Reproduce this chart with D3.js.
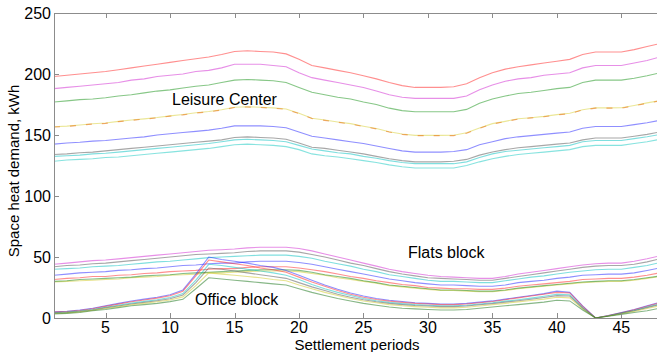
<!DOCTYPE html>
<html>
<head>
<meta charset="utf-8">
<script src="https://cdn.jsdelivr.net/npm/d3@7/dist/d3.min.js"></script>
<style>
  body { margin: 0; background: #fff; }
  svg text { font-family: "Liberation Sans", Arial, sans-serif; fill: #000; }
</style>
</head>
<body>
<svg id="chart" width="657" height="352"></svg>
<script>
const periods = [1,2,3,4,5,6,7,8,9,10,11,12,13,14,15,16,17,18,19,20,21,22,23,24,
                 25,26,27,28,29,30,31,32,33,34,35,36,37,38,39,40,41,42,43,44,45,46,47,48];

const xTicks = [5, 10, 15, 20, 25, 30, 35, 40, 45];
const yTicks = [0, 50, 100, 150, 200, 250];

// Leisure Center
const leisureRed = [198,199,200,201,202,203.5,205,206.5,208,209.5,211,212.5,214,216,218.5,219,218.5,218,216.5,212,207,205,203,201,198.5,196,193,190.5,189,189,189,189.5,192,197,201,204,206,207.5,209,210.5,212,216,218,218,218,220,222.5,225];
const leisureMagenta = [188,189,190,191,192,193,195,196,198,199,200,202,203,205,208,208,208,207,206,201,197,195,193,191,189,186,183,181,180,180,180,180,182,187,191,194,196,197,199,200,201,205,207,207,207,209,211,214];
const leisureGreen = [177,178,179,179.5,180.5,182,183,184.5,186,187,188.5,190,191,193,195,195.5,195,194.5,193,189,185,183,181,179.5,177,175,172,170,169,169,169,169,171,176,179.5,182,184,185,186.5,188,189,193,195,195,195,196.5,198.5,201];
const leisureYellow = [156.8,157.3,158.2,159.2,159.8,161.2,162.3,163.2,164.3,165.7,166.8,168.2,169.3,170.7,172.8,173.2,172.8,172.2,171.3,167.8,163.7,162.3,160.7,159.3,157.2,155.3,152.7,150.8,149.7,149.7,149.7,149.8,151.8,155.7,159.3,161.2,163.3,164.2,165.3,166.7,167.8,170.7,172.3,172.2,172.3,174.2,176.3,178.2];
const leisureOrange = [156.5,157,158,159,159.5,161,162,163,164,165.5,166.5,168,169,170.5,172.5,173,172.5,172,171,167.5,163.5,162,160.5,159,157,155,152.5,150.5,149.5,149.5,149.5,149.5,151.5,155.5,159,161,163,164,165,166.5,167.5,170.5,172,172,172,174,176,178];
const leisureBlue = [142.5,143.5,144,145,145.5,146.5,147.5,148.5,150,151,152,153,154,155.5,157.5,157.5,157.5,157,156,152.5,149,147.5,146,144.5,143,141,139,137,136,136,136,136.5,138,142,144.5,147,148.5,149.5,150.5,151.5,152.5,155.5,157,157,157,158.5,160,162];
const leisureGray = [134,134.5,135.5,136,137,138,139,140,141,142,143,144,145,146,148,148.5,148,147.5,146.5,143.5,140,139,137.5,136,134.5,132.5,130.5,129,128,128,128,128.5,130,133.5,136,138,139.5,140.5,141.5,142.5,143.5,146,147.5,147.5,147.5,149,150.5,152.5];
const leisureCyan = [132.5,133,133.5,134.5,135,136,137,138,139,140,141,142,143,144.5,146,146.5,146,145.5,144.5,141.5,138.5,137,135.5,134.5,132.5,131,129,127.5,126.5,126.5,126.5,126.5,128,131.5,134.5,136.5,137.5,138.5,139.5,140.5,141.5,144.5,145.5,145.5,145.5,147,148.5,150.5];
const leisureCyan2 = [128.5,129.5,130,130.5,131.5,132,133,134,135,136,137,138,139,140.5,142,142.5,142,141.5,140.5,138,134.5,133,132,130.5,129,127.5,125.5,124,123,123,123,123,125,128,130.5,132.5,134,135,136,137,138,140.5,141.5,141.5,141.5,143,144.5,146.5];

// Flats block
const flatsMagenta = [44,45,46,47,47.5,48.5,49.5,50.5,51.5,52.5,53.5,54.5,55.5,56,56.5,57.5,58,58,58,57,55,52.5,50,47.5,45,42.5,40,38,36.5,35,34,33.5,33,32.5,32.5,34,36,37.5,39,40.5,42,43.5,44.5,45,45,46.5,48.5,51];
const flatsGray = [42,43,43.5,44.5,45,46,47,48,49,50,51,52,52.5,53,53.5,54.5,55,55,55,54,52,50,47.5,45,43,40.5,38,36,34.5,33,32.5,32,31.5,31,31,32.5,34,35.5,37,38.5,40,41.5,42.5,43,43,44,46,48.5];
const flatsCyan = [40,40.5,41,42,42.5,43,44,45,46,46.5,47.5,48.5,49.5,50,50.5,51,51.5,51.5,51.5,50.5,49,46.5,44.5,42.5,40,38,35.5,34,32.5,31,30,30,29.5,29,29,30.5,32,33.5,34.5,36,37.5,38.5,39.5,40,40,41.5,43,45.5];
const flatsBlue = [35,36,37,37.5,38,39,39.5,40.5,41,42,43,43.5,44.5,45,45,46,46.5,46.5,46.5,45.5,44,42,40,38,36,34,32,30.5,29,28,27,27,26.5,26,26,27,29,30,31,32.5,33.5,35,35.5,36,36,37,39,41];
const flatsRed = [31.5,32.5,33,34,34,35,35.5,36.5,37,38,38.5,39,40,40.5,40.5,41.5,42,42,42,41,39.5,38,36,34,32.5,30.5,29,27.5,26.5,25,24.5,24,24,23.5,23.5,24.5,26,27,28,29,30,31.5,32,32.5,32.5,33.5,35,37];
const flatsGreen = [30,30.5,31.5,32,32.5,33,33.5,34.5,35,35.5,36.5,37,37.5,38,38.5,39,39.5,39.5,39.5,39,37.5,35.5,34,32.5,30.5,29,27,26,25,24,23,23,22.5,22,22,23,24.5,25.5,26.5,27.5,28.5,29.5,30,30.5,30.5,31.5,33,34.5];
const flatsYellow = [29.5,30,30.5,31,31.5,32,33,33.5,34,35,35.5,36,37,37,37.5,38,38.5,38.5,38.5,38,36.5,35,33,31.5,30,28.5,26.5,25.5,24.5,23.5,22.5,22.5,22,21.5,21.5,22.5,24,25,26,27,28,29,29.5,30,30,31,32.5,34];

// Office block
const officeBlue = [5,5.5,6.5,8,10,12,14,15.5,17,19,23,36,50,48,46.5,45,43,41.5,39,35,31,27,23.5,20.5,18,16,14.5,13.5,12.5,12,11.5,11.5,12,13,14,15.5,17,18.5,20,22,21,10,0,2,4.5,7,10,13];
const officeRed = [4.8,5.3,6.2,7.6,9.5,11.4,13.3,14.8,16.3,18.2,22,34.5,47.5,46,44.5,43,41,39.5,37.5,33.5,29.5,26,22.5,19.5,17,15.2,13.8,12.8,12,11.5,11,11,11.5,12.5,13.5,15,16.5,18,19.5,21,20.5,9.5,0,2,4.3,6.8,9.6,12.5];
const officeCyan = [4.3,4.8,5.6,7,8.8,10.5,12.2,13.6,15,16.8,20,31,44,43,41.5,40,38.5,37,35,31.5,27.5,24,21,18.5,16,14.2,12.8,11.8,11,10.5,10,10,10.5,11.5,12.5,13.8,15,16.3,17.8,19.5,19,8.5,0,1.8,4,6.2,9,11.5];
const officeGray = [4,4.5,5.3,6.6,8.3,9.9,11.5,12.8,14.2,15.8,18.8,29,41,40,38.5,37,35.5,34,32.5,29,25.5,22.5,19.5,17,15,13.3,12,11,10.2,9.8,9.3,9.3,9.8,10.8,11.8,13,14.2,15.4,16.8,18.3,18,8,0,1.7,3.8,5.9,8.5,11];
const officeYellow = [3.7,4.2,5,6.3,7.8,9.3,10.8,12,13.3,14.8,17.3,26.5,37,36,35,34,33,31.5,30.5,27,24,21,18.5,16,14,12.5,11,10,9.3,8.8,8.3,8.3,8.8,9.8,10.8,12,13.2,14.3,15.5,17,16.5,7.5,0,1.6,3.5,5.4,7.8,10];
const officeGreen = [3.3,3.8,4.5,6,7,8.5,10,11,12,13.4,15.3,24,33,32,31,30,29,28,27,24,21,18.5,16,14,12,10.5,9,8,7.5,7,6.5,6.5,7,8,9,10,11,12,13,14.5,14,6.5,0,1.5,3,4.5,6,8];

const seriesList = [
  { values: leisureRed, color: "#ff2020" },
  { values: leisureMagenta, color: "#d020d0" },
  { values: leisureGreen, color: "#109010" },
  { values: leisureYellow, color: "#d8d030" },
  { values: leisureOrange, color: "#e86000", dash: "6,10" },
  { values: leisureBlue, color: "#2020ff" },
  { values: leisureGray, color: "#505050" },
  { values: leisureCyan, color: "#00c0c0" },
  { values: leisureCyan2, color: "#10c8c0" },
  { values: flatsMagenta, color: "#d020d0" },
  { values: flatsGray, color: "#505050" },
  { values: flatsCyan, color: "#00c0c0" },
  { values: flatsBlue, color: "#2020ff" },
  { values: flatsRed, color: "#ff2020" },
  { values: flatsYellow, color: "#d0c820" },
  { values: flatsGreen, color: "#108010" },
  { values: officeBlue, color: "#2020ff" },
  { values: officeRed, color: "#ff2020" },
  { values: officeCyan, color: "#00c0c0" },
  { values: officeGray, color: "#505050" },
  { values: officeYellow, color: "#d0c820" },
  { values: officeGreen, color: "#107010" }
];

const labels = [
  { text: "Leisure Center", x: 172, y: 105 },
  { text: "Flats block", x: 408, y: 258 },
  { text: "Office block", x: 195, y: 305 }
];

const chart = d3.select("#chart");
const W = +chart.attr("width"), H = +chart.attr("height");
const L = 54, R = 660, T = 13, B = 318;

const x = d3.scaleLinear().domain([1, 48]).range([L, R]);
const y = d3.scaleLinear().domain([0, 250]).range([B, T]);

const axisColor = "#8c8c8c";

// lines
const plot = chart.append("g");
const line = d3.line()
  .x((d, i) => x(periods[i]))
  .y(d => y(d));

seriesList.forEach(s => {
  plot.append("path")
    .attr("d", line(s.values))
    .attr("fill", "none")
    .attr("stroke", s.color)
    .attr("stroke-opacity", 0.5)
    .attr("stroke-width", 1.1)
    .attr("stroke-dasharray", s.dash || null);
});

// box
chart.append("line").attr("x1", L).attr("x2", W).attr("y1", T + 0.5).attr("y2", T + 0.5)
  .attr("stroke", axisColor);
chart.append("line").attr("x1", L).attr("x2", W).attr("y1", B + 0.5).attr("y2", B + 0.5)
  .attr("stroke", axisColor);
chart.append("line").attr("x1", L + 0.5).attr("x2", L + 0.5).attr("y1", T).attr("y2", B)
  .attr("stroke", axisColor);

// ticks on bottom and top
const tickLen = 5;
xTicks.forEach(t => {
  const px = Math.round(x(t)) + 0.5;
  chart.append("line").attr("x1", px).attr("x2", px).attr("y1", B).attr("y2", B - tickLen)
    .attr("stroke", axisColor);
  chart.append("line").attr("x1", px).attr("x2", px).attr("y1", T).attr("y2", T + tickLen)
    .attr("stroke", axisColor);
  chart.append("text").attr("x", x(t)).attr("y", B + 15)
    .attr("text-anchor", "middle").attr("font-size", 16).text(t);
});

yTicks.forEach(t => {
  const py = Math.round(y(t)) + 0.5;
  chart.append("line").attr("x1", L).attr("x2", L + tickLen).attr("y1", py).attr("y2", py)
    .attr("stroke", axisColor);
  chart.append("text").attr("x", L - 3).attr("y", y(t)).attr("dy", "0.36em")
    .attr("text-anchor", "end").attr("font-size", 16).text(t);
});

// axis titles
chart.append("text")
  .attr("x", (L + R) / 2).attr("y", 350)
  .attr("text-anchor", "middle").attr("font-size", 15)
  .text("Settlement periods");

chart.append("text")
  .attr("transform", "translate(19,171) rotate(-90)")
  .attr("text-anchor", "middle").attr("font-size", 15)
  .text("Space heat demand, kWh");

// annotations
chart.selectAll(".ann")
  .data(labels)
  .enter()
  .append("text")
  .attr("class", "ann")
  .attr("x", d => d.x).attr("y", d => d.y)
  .attr("font-size", 16)
  .text(d => d.text);
</script>
</body>
</html>
